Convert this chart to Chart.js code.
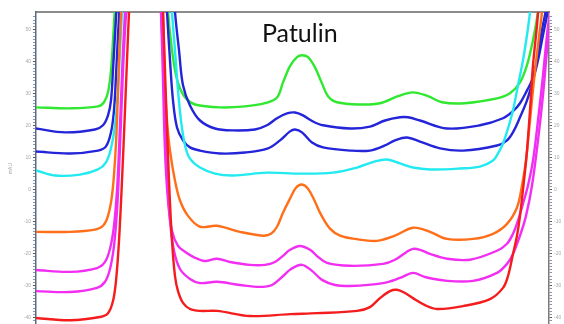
<!DOCTYPE html>
<html>
<head>
<meta charset="utf-8">
<script src="https://cdn.jsdelivr.net/npm/chart.js@4"></script>
<style>
    html, body { margin: 0; padding: 0; background: #ffffff; overflow: hidden; }
    #wrap { position: relative; width: 564px; height: 324px; overflow: hidden; }
    #peak-label {
        position: absolute; left: 262px; top: 20px;
        font-family: Lato, "Open Sans", sans-serif; font-size: 25px; line-height: 25px;
        color: #111111; white-space: nowrap;
    }
</style>
</head>
<body>
<div id="wrap">
    <canvas id="chromChart" width="564" height="330"></canvas>
    <div id="peak-label">Patulin</div>
</div>
<script>
// Retention time (min) and absorbance (mAU) for each trace
const greenTime = [0, 0.68, 1.24, 1.36, 1.44, 1.5, 1.54, 1.58, 1.64, 2.08, 2.54, 2.64, 2.72, 2.8, 2.88, 3.0, 3.18, 3.68, 4.18, 4.58, 4.82, 4.94, 5.08, 5.22, 5.32, 5.44, 5.58, 5.72, 5.84, 6.02, 6.48, 6.88, 7.24, 7.54, 7.84, 8.12, 8.58, 9.22, 9.48, 9.68, 9.82, 9.94, 10.04, 10.12];
const greenMAU = [25.7, 25.4, 26.0, 27.3, 30.4, 37.3, 46.7, 57.7, 78.1, 250, 78.1, 55.5, 43.6, 35.7, 31.7, 28.5, 26.6, 25.7, 26.0, 27.0, 28.8, 33.5, 38.6, 41.4, 42.0, 41.4, 38.2, 33.2, 29.2, 27.3, 26.6, 27.0, 29.2, 30.4, 29.2, 27.3, 27.0, 28.5, 30.1, 33.5, 38.9, 46.7, 55.5, 65.5];

const blueTime = [0, 0.58, 1.18, 1.34, 1.44, 1.5, 1.54, 1.58, 1.62, 1.68, 2.12, 2.68, 2.78, 2.86, 2.94, 3.08, 3.28, 3.58, 3.94, 4.38, 4.62, 4.82, 5.02, 5.18, 5.34, 5.54, 5.74, 6.28, 6.68, 6.98, 7.28, 7.44, 7.68, 8.22, 8.88, 9.34, 9.54, 9.68, 9.82, 9.92, 10.02, 10.1, 10.2, 10.28];
const blueMAU = [19.1, 17.9, 18.8, 20.1, 23.2, 27.9, 37.3, 48.3, 59.2, 78.1, 250, 78.1, 55.5, 43.6, 32.6, 26.3, 21.6, 19.1, 18.5, 18.8, 20.1, 22.3, 23.8, 24.1, 23.2, 21.3, 20.1, 19.1, 19.7, 21.6, 22.6, 22.6, 21.6, 19.1, 20.1, 22.3, 24.5, 27.0, 31.0, 34.2, 40.4, 48.3, 56.1, 62.4];

const blue2Time = [0, 0.68, 1.24, 1.4, 1.5, 1.56, 1.6, 1.64, 1.68, 1.74, 2.14, 2.54, 2.62, 2.68, 2.74, 2.82, 2.94, 3.08, 3.28, 3.68, 4.18, 4.64, 4.88, 5.08, 5.18, 5.32, 5.52, 5.74, 6.28, 6.68, 6.98, 7.18, 7.42, 7.68, 8.08, 8.54, 9.22, 9.42, 9.56, 9.68, 9.82, 9.94, 10.04, 10.14, 10.22, 10.3];
const blue2MAU = [11.9, 11.3, 12.2, 13.5, 17.9, 24.8, 35.7, 48.3, 59.2, 78.1, 250, 78.1, 55.5, 40.4, 27.9, 19.4, 15.4, 13.2, 12.2, 11.3, 11.6, 12.9, 15.4, 18.2, 18.8, 17.9, 14.7, 13.2, 12.2, 12.2, 13.8, 15.4, 16.3, 15.0, 12.9, 12.2, 13.8, 15.4, 18.5, 22.6, 27.9, 34.2, 40.4, 48.3, 54.5, 62.4];

const cyanTime = [0, 0.38, 0.88, 1.24, 1.4, 1.5, 1.58, 1.64, 1.68, 1.72, 1.78, 2.2, 2.64, 2.72, 2.78, 2.84, 2.9, 2.98, 3.08, 3.28, 3.58, 3.94, 4.62, 5.28, 5.94, 6.42, 6.78, 7.02, 7.28, 7.54, 7.88, 8.48, 8.88, 9.14, 9.24, 9.34, 9.44, 9.54, 9.64, 9.74, 9.82, 9.88, 9.96];
const cyanMAU = [6.0, 4.4, 4.7, 6.3, 8.5, 12.9, 20.1, 31.0, 43.6, 55.5, 78.1, 250, 78.1, 55.5, 43.6, 31.0, 21.6, 13.8, 9.7, 6.9, 5.0, 4.4, 5.3, 5.0, 5.3, 6.9, 8.8, 9.4, 8.2, 6.9, 6.3, 6.6, 7.2, 9.1, 11.3, 14.4, 19.1, 24.8, 32.6, 40.4, 48.3, 55.5, 68.7];

const orangeTime = [0, 0.68, 1.18, 1.34, 1.44, 1.52, 1.58, 1.62, 1.66, 1.7, 1.76, 2.08, 2.44, 2.5, 2.56, 2.62, 2.68, 2.78, 2.88, 3.04, 3.28, 3.62, 4.08, 4.54, 4.7, 4.82, 4.94, 5.08, 5.2, 5.32, 5.44, 5.56, 5.7, 5.88, 6.08, 6.38, 6.82, 7.18, 7.54, 7.88, 8.22, 8.74, 9.14, 9.42, 9.62, 9.72, 9.8, 9.88, 9.96, 10.04, 10.12, 10.2];
const orangeMAU = [-13.2, -13.2, -12.5, -11.3, -8.2, -1.9, 9.1, 21.6, 40.4, 55.5, 78.1, 250, 78.1, 55.5, 37.3, 21.6, 12.2, 2.8, -3.4, -8.2, -11.6, -11.3, -13.2, -14.4, -13.8, -11.6, -7.2, -2.8, 0.6, 1.6, 0.3, -3.1, -7.8, -12.2, -14.4, -15.4, -16.0, -14.4, -11.9, -13.2, -15.4, -15.4, -13.8, -10.7, -5.6, 1.3, 9.1, 21.6, 34.2, 45.1, 55.5, 68.7];

const magentaTime = [0, 0.68, 1.22, 1.38, 1.48, 1.56, 1.62, 1.66, 1.7, 1.74, 1.78, 1.84, 2.18, 2.44, 2.5, 2.54, 2.58, 2.64, 2.72, 2.84, 2.98, 3.18, 3.38, 3.62, 3.88, 4.28, 4.58, 4.78, 4.94, 5.08, 5.28, 5.48, 5.64, 5.82, 6.28, 6.94, 7.18, 7.42, 7.54, 7.68, 7.88, 8.22, 8.68, 9.22, 9.42, 9.54, 9.64, 9.74, 9.84, 9.94, 10.04, 10.14, 10.22, 10.28, 10.34];
const magentaMAU = [-25.1, -25.7, -24.5, -22.6, -18.5, -11.3, -0.3, 12.2, 27.9, 43.6, 55.5, 78.1, 250, 78.1, 55.5, 34.2, 12.2, -3.4, -12.9, -17.6, -19.4, -21.3, -22.3, -21.6, -22.6, -23.5, -23.5, -22.6, -20.7, -18.8, -17.6, -18.8, -21.0, -22.9, -23.8, -23.2, -21.9, -19.4, -18.5, -18.8, -20.1, -21.6, -21.9, -19.1, -16.9, -13.8, -9.7, -4.4, 1.3, 9.1, 21.6, 35.7, 48.3, 56.1, 65.5];

const magenta2Time = [0, 0.68, 1.22, 1.38, 1.48, 1.56, 1.62, 1.66, 1.7, 1.74, 1.78, 1.82, 1.88, 2.22, 2.48, 2.54, 2.58, 2.62, 2.68, 2.76, 2.88, 3.08, 3.28, 3.62, 4.08, 4.48, 4.72, 4.92, 5.1, 5.32, 5.52, 5.72, 5.98, 6.28, 6.94, 7.28, 7.54, 7.78, 8.22, 8.74, 9.22, 9.42, 9.54, 9.68, 9.8, 9.92, 10.04, 10.14, 10.22, 10.3, 10.36];
const magenta2MAU = [-31.7, -32.0, -30.7, -28.8, -24.8, -17.6, -6.6, 6.0, 21.6, 37.3, 49.8, 59.2, 78.1, 250, 78.1, 55.5, 27.9, 6.0, -9.7, -19.1, -24.8, -27.9, -29.2, -28.8, -29.8, -30.4, -29.8, -27.3, -24.8, -23.5, -25.4, -28.2, -29.8, -30.1, -29.2, -27.6, -26.0, -27.3, -28.5, -28.5, -26.0, -23.2, -20.1, -14.4, -8.2, 1.3, 15.4, 29.5, 43.6, 56.1, 65.5];

const redTime = [0, 0.68, 1.28, 1.44, 1.54, 1.6, 1.66, 1.72, 1.78, 1.82, 1.86, 1.92, 2.24, 2.48, 2.54, 2.6, 2.66, 2.72, 2.78, 2.84, 2.94, 3.08, 3.28, 3.62, 4.28, 5.08, 5.62, 6.42, 6.68, 6.88, 7.08, 7.22, 7.38, 7.54, 7.78, 8.02, 8.54, 9.08, 9.34, 9.44, 9.54, 9.62, 9.68, 9.76, 9.82, 9.88, 9.94, 10.02, 10.08];
const redMAU = [-40.1, -40.8, -39.8, -38.6, -34.8, -28.5, -16.0, 2.8, 24.8, 40.4, 55.5, 78.1, 250, 78.1, 55.5, 27.9, 2.8, -16.0, -27.0, -31.7, -35.4, -37.3, -37.9, -37.9, -39.5, -38.9, -38.6, -37.9, -36.7, -33.9, -31.7, -31.3, -32.3, -33.9, -36.1, -37.3, -36.4, -34.2, -30.7, -27.0, -20.1, -14.4, -8.2, 2.8, 12.2, 24.8, 38.9, 51.4, 62.4];

// Axis settings
const TIME_MIN = 0;
const TIME_MAX = 10.26;
const MAU_MIN = -42.3;
const MAU_MAX = 55.5;

// Trace list (drawn back to front)
const traces = [
    { time: redTime, mau: redMAU, color: '#f41c1c' },
    { time: magenta2Time, mau: magenta2MAU, color: '#f22ef2' },
    { time: magentaTime, mau: magentaMAU, color: '#f22ef2' },
    { time: orangeTime, mau: orangeMAU, color: '#ff6f1a' },
    { time: cyanTime, mau: cyanMAU, color: '#22eaf0' },
    { time: blue2Time, mau: blue2MAU, color: '#2424d8' },
    { time: blueTime, mau: blueMAU, color: '#2424d8' },
    { time: greenTime, mau: greenMAU, color: '#30e830' }
];

function toPoints(time, mau) {
    return time.map((t, i) => ({ x: t, y: mau[i] }));
}

// Keep only whole-number ticks (minor every 1 mAU)
function wholeTicks(scale) {
    scale.ticks = scale.ticks.filter(t => Math.abs(t.value - Math.round(t.value)) < 1e-6);
}

function tickLabel(value) {
    const v = Math.round(value);
    return v % 10 === 0 ? String(v) : '';
}

function yAxis(position, width, axisColor, showTitle) {
    return {
        type: 'linear',
        position: position,
        min: MAU_MIN,
        max: MAU_MAX,
        afterBuildTicks: wholeTicks,
        afterFit: s => { s.width = width; },
        title: {
            display: showTitle,
            text: 'mAU',
            color: '#a0a0a0',
            font: { size: 5, family: 'Liberation Sans' },
            padding: { top: 8, bottom: 0 }
        },
        grid: {
            drawOnChartArea: false,
            tickLength: 3,
            tickColor: ctx => (ctx.tick && Math.round(ctx.tick.value) % 10 === 0) ? '#555555' : '#8c94b0',
            lineWidth: 1
        },
        border: { display: true, color: axisColor, width: 1.5 },
        ticks: {
            stepSize: 1,
            autoSkip: false,
            maxTicksLimit: 200,
            padding: 2,
            color: '#a8a8a8',
            font: { size: 5, family: 'Liberation Sans' },
            callback: tickLabel
        }
    };
}

function initChart() {
    new Chart(document.getElementById('chromChart').getContext('2d'), {
        type: 'line',
        data: {
            datasets: traces.map(tr => ({
                data: toPoints(tr.time, tr.mau),
                borderColor: tr.color,
                borderWidth: 2.4,
                pointRadius: 0,
                fill: false,
                tension: 0.35
            }))
        },
        options: {
            responsive: false,
            animation: false,
            layout: { padding: 0 },
            plugins: {
                legend: { display: false },
                tooltip: { enabled: false }
            },
            scales: {
                x: { type: 'linear', min: TIME_MIN, max: TIME_MAX, display: false },
                xTop: {
                    type: 'linear',
                    position: 'top',
                    min: 0,
                    max: 1,
                    afterFit: s => { s.height = 12; },
                    grid: { display: true, drawOnChartArea: false, drawTicks: false },
                    border: { display: true, color: '#8c8c8c', width: 2 },
                    ticks: { display: false }
                },
                y: yAxis('left', 36, '#5b6b85', true),
                y2: yAxis('right', 15, '#7a7a7a', false)
            }
        }
    });
}

document.addEventListener('DOMContentLoaded', initChart);
</script>
</body>
</html>
